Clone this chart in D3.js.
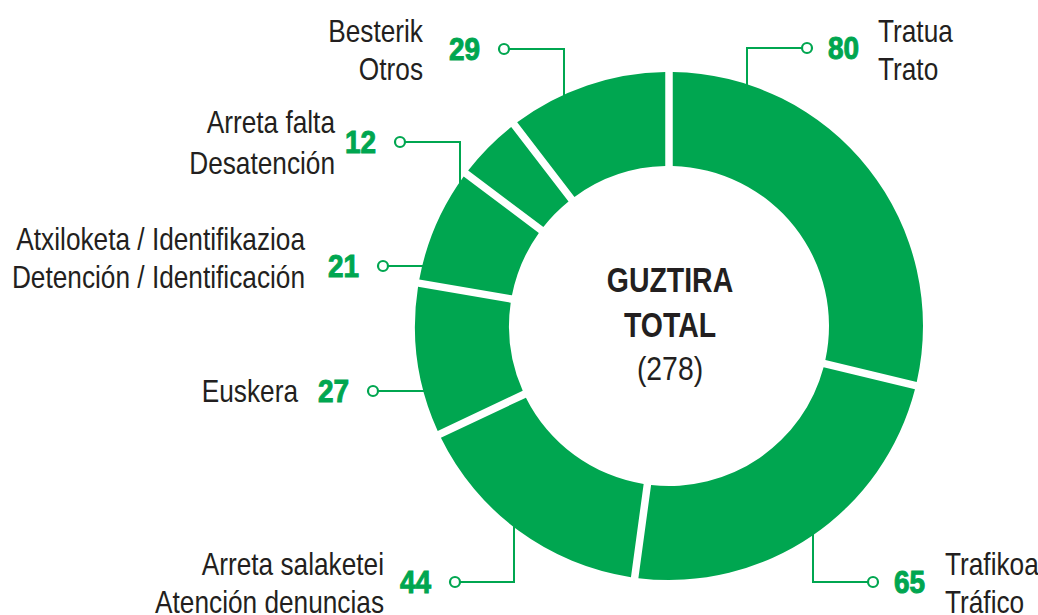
<!DOCTYPE html>
<html>
<head>
<meta charset="utf-8">
<script src="https://cdn.jsdelivr.net/npm/d3@7"></script>
<style>
  html, body { margin: 0; padding: 0; background: #ffffff; }
  svg { display: block; }
  .lbl { font-family: "Liberation Sans", Arial, sans-serif; fill: #231f20; font-size: 32px; }
  .num { font-family: "Liberation Sans", Arial, sans-serif; font-weight: bold; fill: #00a650; stroke: #00a650; stroke-width: 1px; font-size: 31px; }
  .center { font-family: "Liberation Sans", Arial, sans-serif; fill: #231f20; }
</style>
</head>
<body>
<svg id="chart" width="1038" height="615"></svg>
<script>
// Complaint categories, clockwise from 12 o'clock
const categoriesEu = ["Tratua", "Trafikoa", "Arreta salaketei", "Euskera", "Atxiloketa / Identifikazioa", "Arreta falta", "Besterik"];
const categoriesEs = ["Trato", "Tráfico", "Atención denuncias", null, "Detención / Identificación", "Desatención", "Otros"];
const values = [80, 65, 44, 27, 21, 12, 29];
const centerTitle = ["GUZTIRA", "TOTAL"];

// Leader / label placement for each category (dot position, elbow direction, text anchor)
const labelLayout = [
  { dot: [807, 48],  leg: "v", side: "right", textX: 878, lineY: [42, 80],   elbowX: 747 },
  { dot: [873, 582], leg: "v", side: "right", textX: 945, lineY: [575, 613], elbowX: 813 },
  { dot: [455, 582], leg: "v", side: "left",  textX: 384, lineY: [575, 613], elbowX: 514 },
  { dot: [373, 391], leg: "h", side: "left",  textX: 298, lineY: [402] },
  { dot: [383, 266], leg: "h", side: "left",  textX: 305, lineY: [250, 288] },
  { dot: [400, 142], leg: "v", side: "left",  textX: 335, lineY: [133, 174], elbowX: 460 },
  { dot: [504, 49],  leg: "v", side: "left",  textX: 423, lineY: [42, 80],   elbowX: 564 }
];

const green = "#00a650";
const cx = 669, cy = 326, outerR = 254, innerR = 160, gap = 7.5;
const narrow = 0.82; // horizontal squeeze to get a condensed face

const svg = d3.select("#chart");
const g = svg.append("g").attr("transform", `translate(${cx},${cy})`);

const data = values.map((v, i) => ({ value: v, eu: categoriesEu[i], es: categoriesEs[i], layout: labelLayout[i] }));

const pie = d3.pie().value(d => d.value).sort(null).startAngle(0).endAngle(2 * Math.PI);
const arc = d3.arc().innerRadius(innerR).outerRadius(outerR)
  .padAngle(gap / outerR).padRadius(outerR);

g.selectAll("path.slice")
  .data(pie(data))
  .join("path")
  .attr("class", "slice")
  .attr("d", arc)
  .attr("fill", green);

function addText(parent, x, y, anchor, cls, str, sx) {
  return parent.append("text")
    .attr("class", cls)
    .attr("transform", `translate(${x},${y}) scale(${sx},1)`)
    .attr("text-anchor", anchor)
    .text(str);
}

// Leader lines: from the ring edge along one axis, then over to the dot
const leaders = svg.append("g");
data.forEach(d => {
  const L = d.layout;
  let pts;
  if (L.leg === "v") {
    const dx = L.elbowX - cx;
    const dy = Math.sqrt(outerR * outerR - dx * dx);
    const ringY = L.dot[1] < cy ? cy - dy + 2 : cy + dy - 2;
    pts = [[L.elbowX, ringY], [L.elbowX, L.dot[1]], L.dot];
  } else {
    const dy = L.dot[1] - cy;
    const ringX = cx - Math.sqrt(outerR * outerR - dy * dy) + 2;
    pts = [[ringX, L.dot[1]], L.dot];
  }
  leaders.append("path")
    .attr("d", d3.line()(pts))
    .attr("fill", "none")
    .attr("stroke", green)
    .attr("stroke-width", 2);
  leaders.append("circle")
    .attr("cx", L.dot[0]).attr("cy", L.dot[1]).attr("r", 5)
    .attr("fill", "#ffffff").attr("stroke", green).attr("stroke-width", 2.2);

  const right = L.side === "right";
  addText(leaders, right ? L.dot[0] + 21 : L.dot[0] - 24, L.dot[1] + 11,
    right ? "start" : "end", "num", d.value, 0.9);

  const lines = [d.eu, d.es].filter(s => s);
  lines.forEach((s, i) => {
    addText(leaders, L.textX, L.lineY[i], right ? "start" : "end", "lbl", s, narrow);
  });
});

// Centre total
const total = d3.sum(values);
const center = svg.append("g");
addText(center, 670, 292, "middle", "center", centerTitle[0], 0.79)
  .attr("font-size", 36).attr("font-weight", "bold");
addText(center, 670, 337, "middle", "center", centerTitle[1], 0.79)
  .attr("font-size", 36).attr("font-weight", "bold");
addText(center, 670, 380, "middle", "center", `(${total})`, 0.86)
  .attr("font-size", 33);
</script>
</body>
</html>
